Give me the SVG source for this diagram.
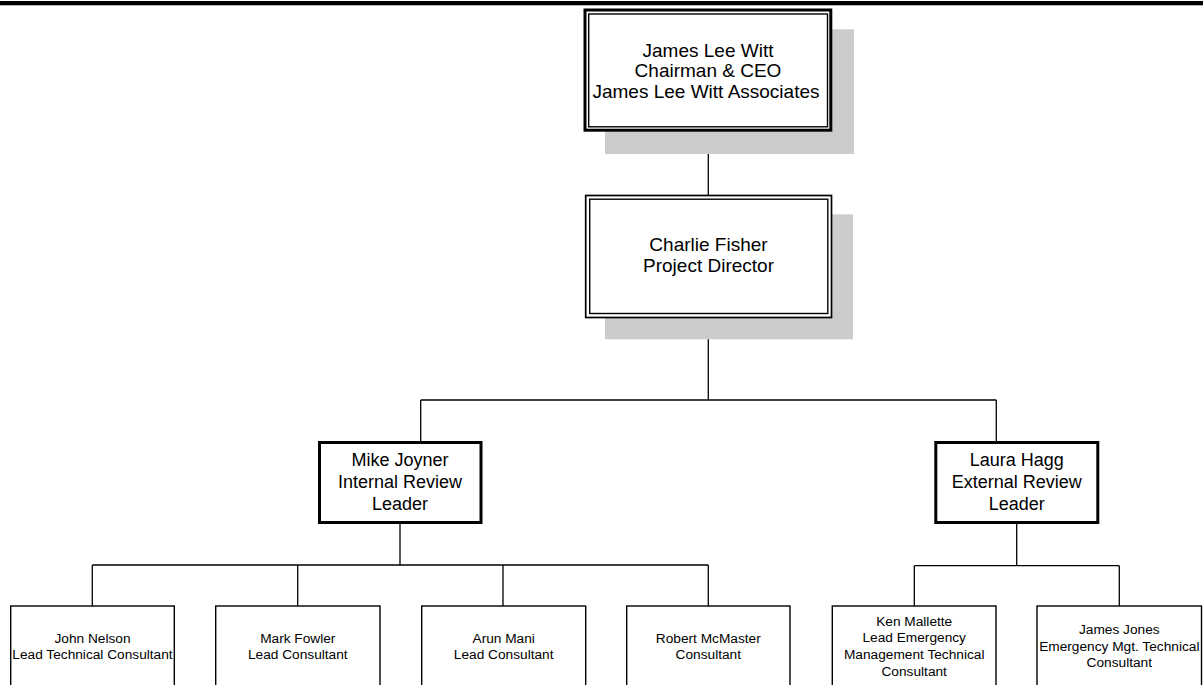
<svg xmlns="http://www.w3.org/2000/svg" width="1203" height="685" viewBox="0 0 1203 685">
<style>
text{font-family:"Liberation Sans",Arial,sans-serif;fill:#000;text-anchor:middle}
.t19{font-size:19px}
.t18{font-size:18px}
.t14{font-size:13.7px}
.shadow{fill:#cccccc;stroke:none}
.thin{fill:none;stroke:#000;stroke-width:1.4}
.thick{fill:#fff;stroke:#000;stroke-width:3}
.box{fill:#fff;stroke:#000;stroke-width:1.4}
.conn{stroke:#000;stroke-width:1.3;fill:none}
</style>
<rect x="0" y="0" width="1203" height="685" fill="#fff"/>
<rect x="0" y="1" width="1203" height="4.3" fill="#000"/>
<g id="connectors">
<line class="conn" x1="708.3" y1="131" x2="708.3" y2="195"/>
<line class="conn" x1="708.3" y1="318" x2="708.3" y2="400"/>
<line class="conn" x1="420.7" y1="400" x2="996.3" y2="400"/>
<line class="conn" x1="420.7" y1="400" x2="420.7" y2="442"/>
<line class="conn" x1="996.3" y1="400" x2="996.3" y2="442"/>
<line class="conn" x1="400" y1="523" x2="400" y2="565"/>
<line class="conn" x1="92.3" y1="565" x2="708.3" y2="565"/>
<line class="conn" x1="92.3" y1="565" x2="92.3" y2="606"/>
<line class="conn" x1="297.7" y1="565" x2="297.7" y2="606"/>
<line class="conn" x1="503" y1="565" x2="503" y2="606"/>
<line class="conn" x1="708.3" y1="565" x2="708.3" y2="606"/>
<line class="conn" x1="1016.7" y1="523" x2="1016.7" y2="565.7"/>
<line class="conn" x1="914.3" y1="565.7" x2="1119.3" y2="565.7"/>
<line class="conn" x1="914.3" y1="565.7" x2="914.3" y2="606"/>
<line class="conn" x1="1119.3" y1="565.7" x2="1119.3" y2="606"/>
</g>
<g id="node-witt">
<rect class="shadow" x="605" y="29.3" width="249" height="124.7"/>
<rect class="thick" x="585" y="10" width="245.8" height="120.2"/>
<rect class="thin" x="588.7" y="14" width="238.8" height="112.8" stroke-width="1.3"/>
<text class="t19" x="708" y="56.7">James Lee Witt</text>
<text class="t19" x="708" y="77.3">Chairman &amp; CEO</text>
<text class="t19" x="706" y="97.7">James Lee Witt Associates</text>
</g>
<g id="node-fisher">
<rect class="shadow" x="605" y="214.3" width="248" height="125"/>
<rect x="585.7" y="195.5" width="245.8" height="122" fill="#fff" stroke="#000" stroke-width="1.7"/>
<rect class="thin" x="589.7" y="199.2" width="238.1" height="114.3"/>
<text class="t19" x="708.5" y="251">Charlie Fisher</text>
<text class="t19" x="708.5" y="272.3">Project Director</text>
</g>
<g id="node-joyner">
<rect class="thick" x="319.5" y="442.5" width="161.5" height="80"/>
<text class="t18" x="400" y="466">Mike Joyner</text>
<text class="t18" x="400" y="487.7">Internal Review</text>
<text class="t18" x="400" y="510">Leader</text>
</g>
<g id="node-hagg">
<rect class="thick" x="935.8" y="442.5" width="162" height="80"/>
<text class="t18" x="1016.7" y="466">Laura Hagg</text>
<text class="t18" x="1016.7" y="487.7">External Review</text>
<text class="t18" x="1016.7" y="510">Leader</text>
</g>
<g id="node-nelson">
<rect class="box" x="10.7" y="606" width="163.6" height="100"/>
<text class="t14" x="92.5" y="643.3">John Nelson</text>
<text class="t14" x="92.5" y="658.5">Lead Technical Consultant</text>
</g>
<g id="node-fowler">
<rect class="box" x="215.7" y="606" width="164.3" height="100"/>
<text class="t14" x="297.8" y="643.3">Mark Fowler</text>
<text class="t14" x="297.8" y="658.5">Lead Consultant</text>
</g>
<g id="node-mani">
<rect class="box" x="421.7" y="606" width="164" height="100"/>
<text class="t14" x="503.7" y="643.3">Arun Mani</text>
<text class="t14" x="503.7" y="658.5">Lead Consultant</text>
</g>
<g id="node-mcmaster">
<rect class="box" x="626.7" y="606" width="163.3" height="100"/>
<text class="t14" x="708.3" y="643.3">Robert McMaster</text>
<text class="t14" x="708.3" y="658.5">Consultant</text>
</g>
<g id="node-mallette">
<rect class="box" x="832.3" y="606" width="163.7" height="100"/>
<text class="t14" x="914.2" y="625.5">Ken Mallette</text>
<text class="t14" x="914.2" y="642.3">Lead Emergency</text>
<text class="t14" x="914.2" y="659">Management Technical</text>
<text class="t14" x="914.2" y="675.5">Consultant</text>
</g>
<g id="node-jones">
<rect class="box" x="1037" y="606" width="164.5" height="100"/>
<text class="t14" x="1119.3" y="634.3">James Jones</text>
<text class="t14" x="1119.3" y="650.8">Emergency Mgt. Technical</text>
<text class="t14" x="1119.3" y="667">Consultant</text>
</g>
</svg>
